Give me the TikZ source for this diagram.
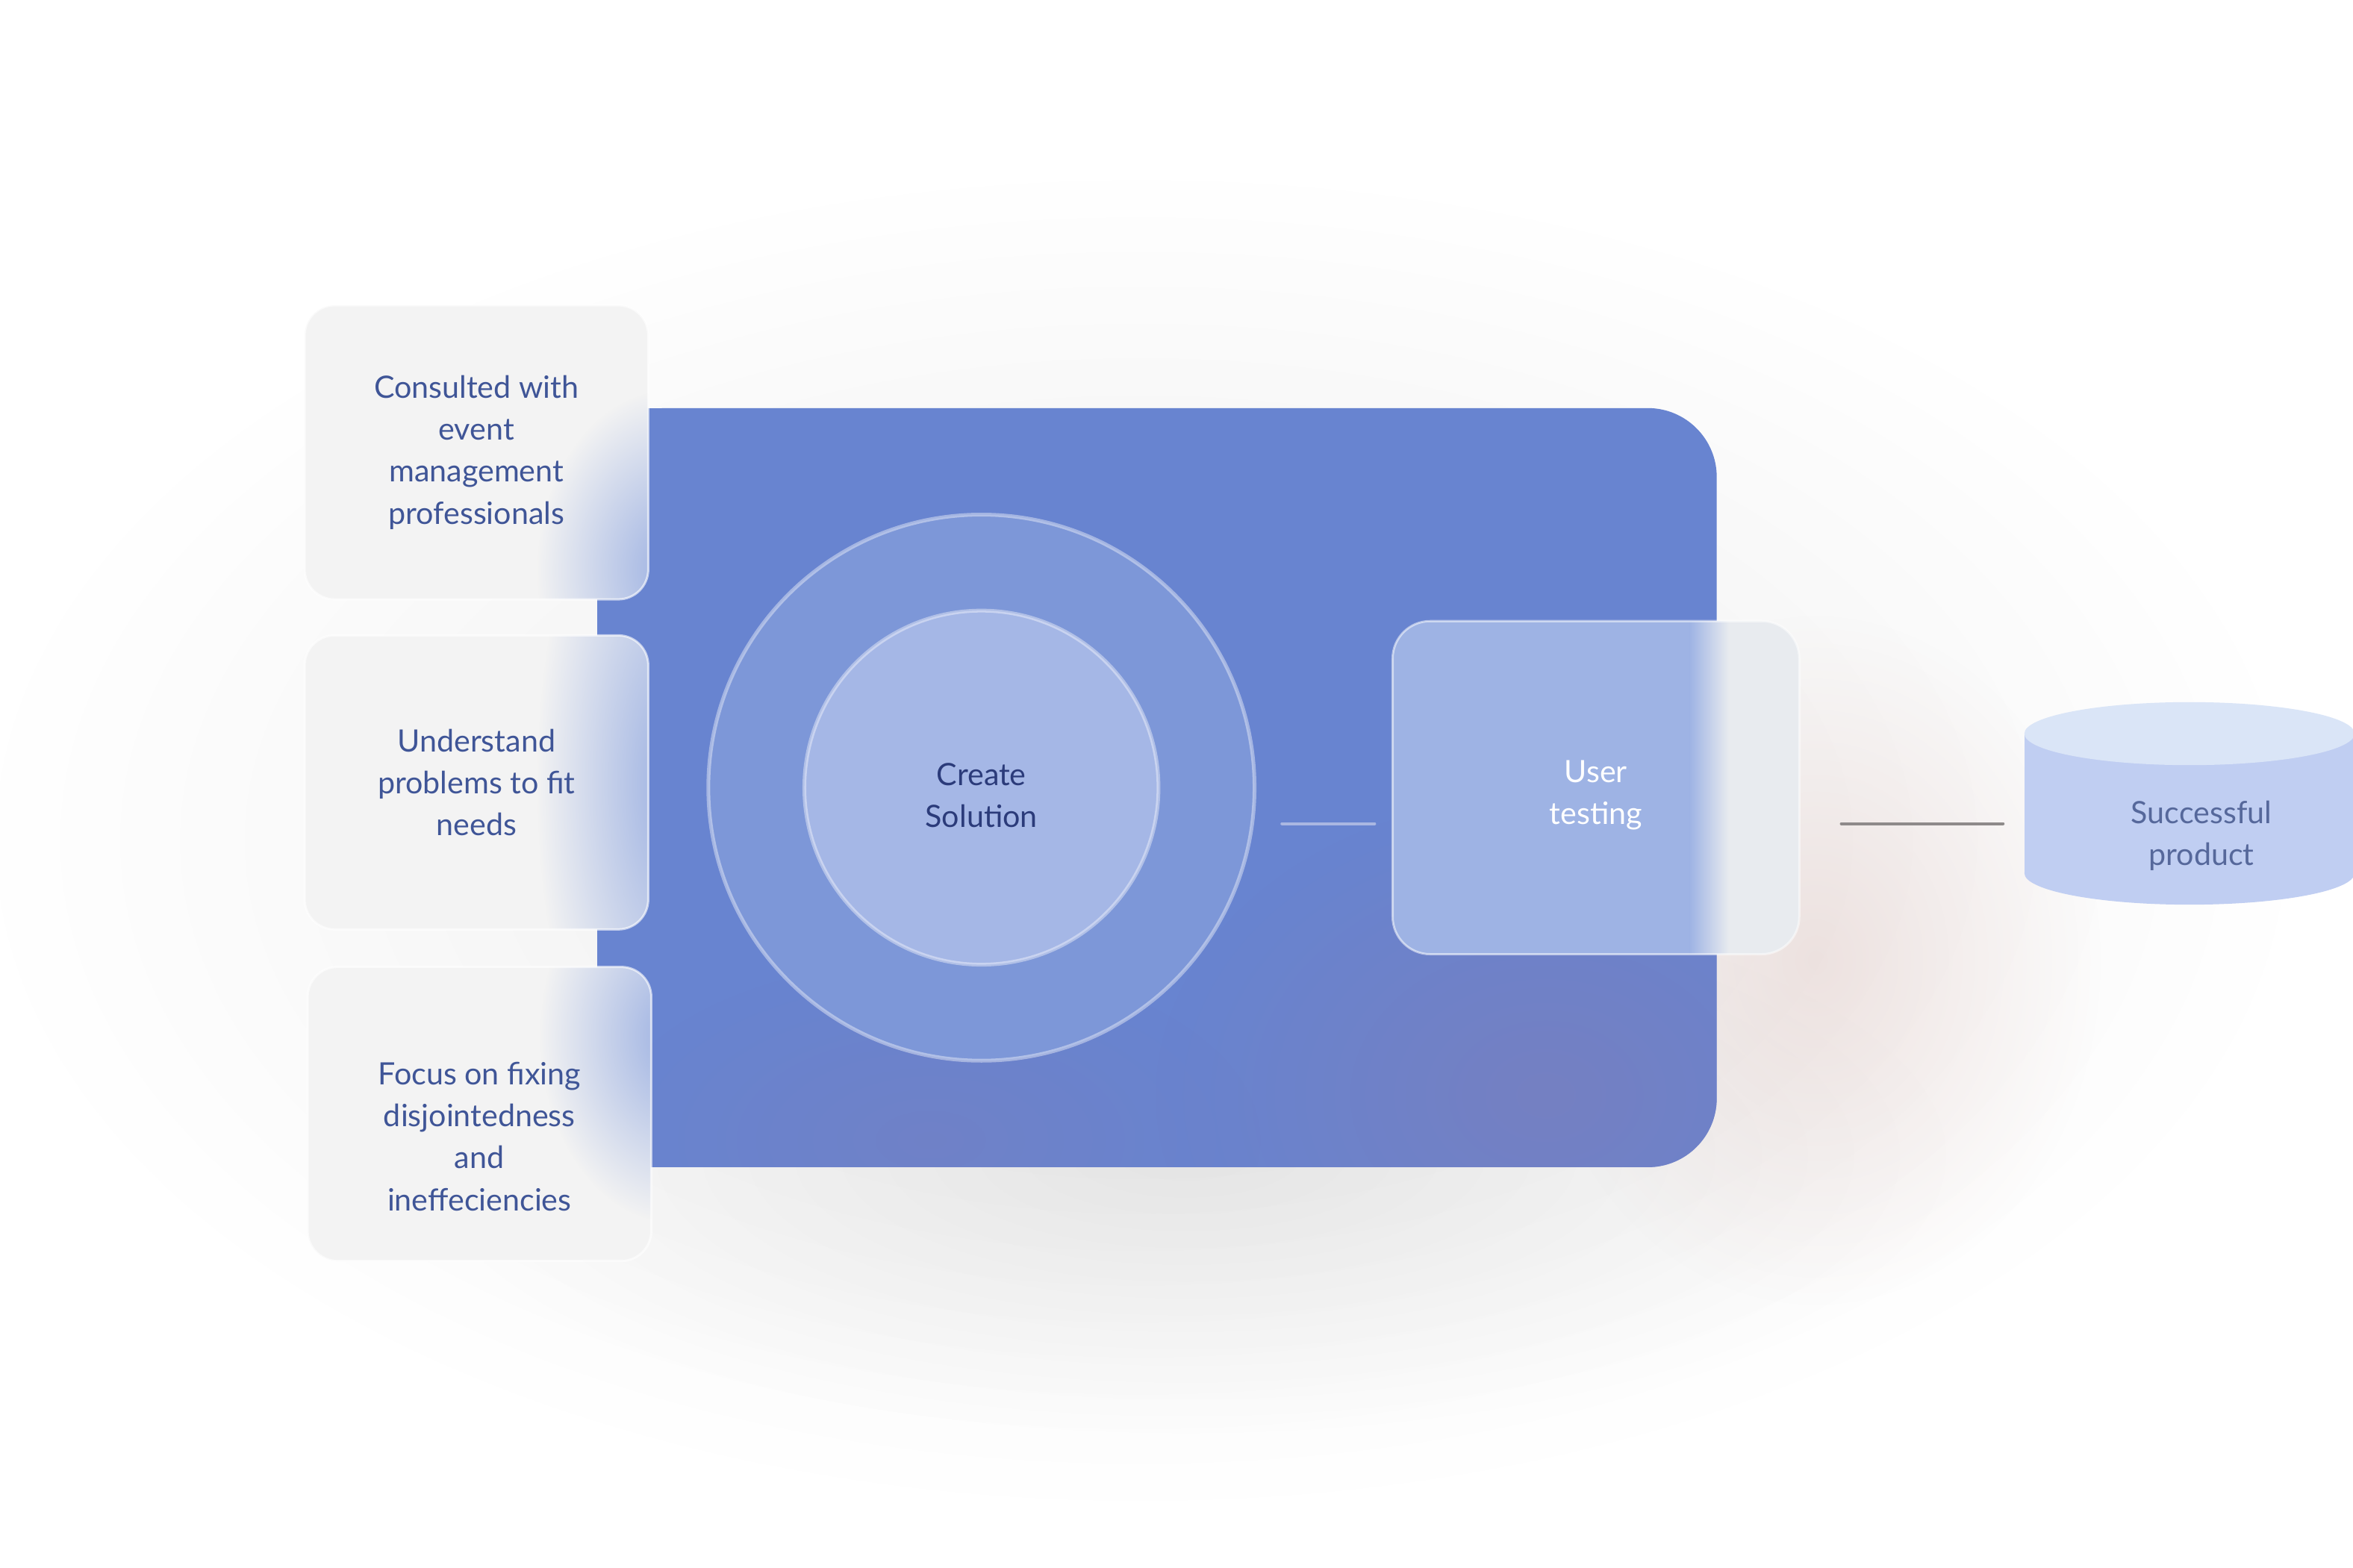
\documentclass[tikz,border=0pt]{standalone}
\usepackage{fontspec}
\setmainfont{Lato}
\usepackage{tikz}
\usetikzlibrary{positioning,calc,fadings}

\definecolor{evpanel}{HTML}{6884D0}
\definecolor{evpurple}{HTML}{7580C2}
\definecolor{evring}{HTML}{7D97D8}
\definecolor{evcore}{HTML}{A5B7E6}
\definecolor{evglass}{HTML}{F3F3F3}
\definecolor{evglow}{HTML}{92A9E0}
\definecolor{evtest}{HTML}{9EB3E4}
\definecolor{evtestgray}{HTML}{E8EBEF}
\definecolor{evcylbody}{HTML}{C0CEF2}
\definecolor{evcyltop}{HTML}{DAE5F7}
\definecolor{evtext}{HTML}{3F5597}
\definecolor{evnavy}{HTML}{2B3B7A}
\definecolor{evprodtext}{HTML}{56689B}
\definecolor{evlinklight}{HTML}{AAB7E2}
\definecolor{evlinkgray}{HTML}{8E8A8A}
\definecolor{evpink}{HTML}{D9B9B3}

\tikzfading[name=glowfade, inner color=transparent!10, outer color=transparent!100]
\tikzfading[name=hazefade, inner color=transparent!0, outer color=transparent!100]

\begin{document}
\begin{tikzpicture}[
      x=1pt, y=-1pt,
      font=\fontsize{20.5}{28}\selectfont,
      haze/.style={fill=black, path fading=hazefade},
      panelbox/.style={rectangle, rounded corners=46pt, fill=evpanel, outer sep=0pt, minimum width=746pt, minimum height=506pt},
      glass/.style={rectangle, rounded corners=20pt, fill=evglass, outer sep=0pt, minimum width=229pt, minimum height=196pt},
      glasstext/.style={align=center, text=evtext},
      disc/.style={circle, draw=white, draw opacity=0.4, line width=2.5pt},
      testbox/.style={rectangle, rounded corners=25pt, fill=evtestgray, outer sep=0pt, minimum width=271pt, minimum height=222pt},
      link/.style={line width=2pt, line cap=round}
    ]

    \useasboundingbox (0,0) rectangle (1568,1045);
    \fill[white] (0,0) rectangle (1568,1045);

    % Soft shadow round the panel
    \fill[haze, fill opacity=0.075] (760,560) ellipse [x radius=780, y radius=450];
    \fill[haze, fill opacity=0.065] (790,770) ellipse [x radius=520, y radius=190];
    \fill[evpink, path fading=hazefade, fill opacity=0.35] (1210,640) ellipse [x radius=190, y radius=230];

    % Panel
    \node[panelbox] (panel) at (771,525) {};
    \fill[evpanel] (panel.north west) rectangle ([xshift=200pt]panel.south);
    \begin{scope}
      \clip[rounded corners=46pt] (panel.north west) rectangle (panel.south east);
      \fill[evpurple, path fading=hazefade] (1030,730) ellipse [x radius=260, y radius=200];
      \fill[evpurple, path fading=hazefade, fill opacity=0.6] (620,760) ellipse [x radius=220, y radius=120];
    \end{scope}

    % Create solution
    \node[disc, fill=evring, minimum size=364pt] (ring) at (654,525) {};
    \node[disc, fill=evcore, minimum size=236pt] (core) at (ring) {};
    \node[text=evnavy, align=center] (core-txt) at ([yshift=-5pt]core.center) {Create\\Solution};

    % Left column
    \node[glass] (consult) at (317.5,301.5) {};
    \node[glass, below=24pt of consult] (understand) {};
    \node[glass, below=25pt of understand, xshift=2pt] (focus) {};

    % Panel seen through the glass
    \begin{scope}
      \clip[rounded corners=20pt] (consult.north west) rectangle (consult.south east);
      \fill[evglow, path fading=glowfade] (448,380) ellipse [x radius=90, y radius=120];
    \end{scope}
    \begin{scope}
      \clip[rounded corners=20pt] (understand.north west) rectangle (understand.south east);
      \fill[evglow, path fading=glowfade] (448,522) ellipse [x radius=90, y radius=240];
    \end{scope}
    \begin{scope}
      \clip[rounded corners=20pt] (focus.north west) rectangle (focus.south east);
      \fill[evglow, path fading=glowfade] (450,690) ellipse [x radius=90, y radius=125];
    \end{scope}
    \foreach \b in {consult,understand,focus}
      \draw[white, opacity=0.6, line width=1.5pt, rounded corners=20pt] (\b.north west) rectangle (\b.south east);

    \node[glasstext] (consult-txt) at (consult) {Consulted with\\event\\management\\professionals};
    \node[glasstext] (understand-txt) at (understand) {Understand\\problems to fit\\needs};
    \node[glasstext] (focus-txt) at ([yshift=-15pt]focus.center) {Focus on fixing\\disjointedness\\and\\ineffeciencies};

    % User testing
    \node[testbox] (usertest) at (1063.5,525) {};
    \begin{scope}
      \clip[rounded corners=25pt] (usertest.north west) rectangle (usertest.south east);
      \fill[evtest] (usertest.north west) rectangle (1126,636);
      \shade[left color=evtest, right color=evtestgray] (1126,414) rectangle (1152,636);
    \end{scope}
    \draw[white, opacity=0.5, line width=1.5pt, rounded corners=25pt] (usertest.north west) rectangle (usertest.south east);
    \node[text=white, align=center] (usertest-txt) at ([yshift=-5pt]usertest.center) {User\\testing};

    % Successful product
    \fill[evcylbody] (1349,489) rectangle (1569,582);
    \fill[evcylbody] (1459,582) ellipse [x radius=110, y radius=21];
    \fill[evcyltop] (1459,489) ellipse [x radius=110, y radius=21];
    \node[text=evprodtext, align=center, minimum width=236pt, minimum height=135pt] (prod) at (1467,557) {Successful\\product};

    % Links
    \coordinate (ring-out) at ([yshift=-24pt]ring.east);
    \coordinate (test-in)  at ([yshift=-24pt]usertest.west);
    \coordinate (test-out) at ([yshift=-24pt]usertest.east);
    \draw[link, evlinklight, shorten <=17pt, shorten >=12pt] (ring-out) -- (test-in);
    \draw[link, evlinkgray, shorten <=28pt, shorten >=14pt] (test-out) -- (test-out -| prod.west);
  \end{tikzpicture}
\end{document}
